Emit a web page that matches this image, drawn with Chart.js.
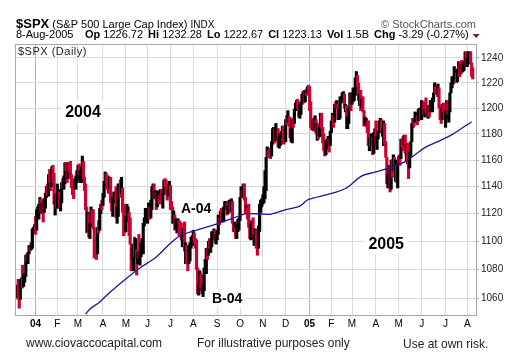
<!DOCTYPE html>
<html lang="en">
<head>
  <meta charset="UTF-8">
  <title>$SPX Daily</title>
  <script src="https://cdn.jsdelivr.net/npm/chart.js"></script>
  <style>
    body { margin: 0; background: #fff; }
    canvas { display: block; }
  </style>
</head>
<body>
  <canvas id="spxChart" width="520" height="360"></canvas>

  <script>
    // daily bars, 8-Dec-2003 .. 8-Aug-2005 (one row per month)
    const closes = [
      1069,1060,1059,1071,1074,1068,1075,1076,1089,1088,1092,1096,1094,1095,1109,1110,1112,
      1108,1122,1124,1126,1132,1122,1127,1121,1131,1132,1140,1139,1148,1144,1142,1155,1144,1128,1134,1131,
      1135,1136,1127,1129,1143,1140,1146,1158,1152,1146,1157,1152,1147,1144,1141,1139,1144,1145,1145,
      1156,1149,1151,1155,1157,1147,1141,1124,1107,1121,1104,1111,1124,1122,1110,1095,1094,1091,1109,1108,1122,1127,1126,
      1132,1142,1151,1148,1141,1139,1145,1129,1128,1129,1135,1136,1118,1124,1140,1141,1136,1138,1122,1114,1107,
      1117,1120,1122,1114,1099,1087,1095,1097,1096,1096,1084,1091,1089,1089,1094,1095,1113,1115,1121,1121,
      1121,1125,1117,1123,1140,1142,1131,1136,1125,1132,1134,1132,1135,1130,1134,1144,1141,1134,1133,1136,1141,
      1129,1125,1116,1118,1109,1113,1114,1115,1111,1107,1101,1101,1109,1094,1097,1086,1084,1095,1095,1100,1102,
      1107,1100,1099,1081,1064,1065,1079,1076,1063,1065,1079,1082,1095,1091,1098,1096,1096,1105,1105,1108,1099,1104,
      1106,1118,1114,1121,1116,1118,1124,1126,1128,1120,1124,1129,1122,1129,1114,1108,1110,1104,1110,1115,1115,
      1132,1135,1134,1142,1131,1122,1124,1122,1114,1103,1108,1114,1103,1104,1106,1096,1095,1111,1125,1127,1130,
      1131,1131,1143,1162,1166,1165,1164,1163,1173,1184,1184,1175,1182,1184,1170,1177,1177,1182,1183,1179,1174,
      1191,1190,1191,1190,1177,1183,1189,1188,1199,1203,1206,1203,1194,1195,1205,1210,1210,1205,1214,1213,1214,1212,
      1202,1188,1184,1188,1186,1190,1183,1188,1177,1185,1196,1185,1175,1168,1164,1168,1174,1175,1171,1181,
      1189,1193,1190,1203,1202,1202,1192,1197,1205,1206,1210,1210,1201,1202,1184,1191,1200,1211,1204,
      1210,1210,1210,1222,1225,1219,1207,1209,1200,1207,1198,1188,1190,1190,1184,1172,1173,1171,1174,1165,1181,1181,
      1173,1176,1181,1184,1191,1181,1181,1188,1174,1162,1143,1146,1153,1138,1160,1152,1162,1152,1156,1143,1157,
      1162,1161,1176,1173,1171,1179,1166,1171,1159,1154,1166,1174,1186,1191,1189,1194,1194,1190,1198,1199,1192,
      1202,1204,1196,1198,1197,1195,1201,1198,1201,1204,1207,1211,1217,1216,1214,1214,1201,1192,1191,1202,1200,1191,
      1194,1205,1195,1198,1212,1219,1222,1223,1227,1228,1221,1229,1235,1227,1234,1229,1231,1237,1244,1234,
      1235,1244,1245,1236,1226,1223
    ];
    const lows = [
      1060,1059,1053,1059,1067,1067,1068,1071,1075,1086,1084,1091,1093,1094,1095,1107,1106,
      1105,1108,1118,1116,1124,1121,1120,1114,1121,1124,1132,1133,1133,1143,1137,1140,1143,1127,1119,1124,
      1124,1131,1124,1122,1128,1139,1138,1142,1152,1143,1146,1151,1146,1139,1134,1131,1139,1138,1143,
      1145,1149,1143,1148,1143,1146,1137,1123,1106,1107,1103,1102,1111,1113,1109,1088,1091,1087,1091,1106,1108,1120,1123,
      1126,1132,1141,1142,1138,1135,1139,1128,1122,1118,1128,1129,1117,1113,1118,1135,1132,1135,1121,1104,1106,
      1107,1114,1117,1104,1098,1079,1087,1079,1089,1088,1076,1084,1088,1083,1089,1092,1091,1111,1115,1118,
      1113,1120,1116,1117,1123,1136,1131,1131,1123,1125,1129,1127,1130,1129,1124,1134,1140,1134,1130,1133,1135,
      1123,1123,1113,1113,1108,1109,1106,1110,1104,1106,1101,1096,1100,1093,1084,1084,1079,1084,1086,1095,1097,
      1097,1099,1095,1080,1063,1062,1065,1067,1063,1061,1065,1079,1077,1087,1090,1095,1092,1096,1101,1104,1099,1098,
      1101,1105,1112,1114,1115,1114,1114,1123,1123,1119,1120,1122,1121,1122,1113,1107,1107,1102,1102,1107,1108,
      1115,1132,1132,1132,1130,1120,1122,1116,1110,1102,1101,1102,1103,1097,1101,1095,1090,1095,1107,1121,1125,
      1127,1128,1131,1137,1162,1162,1162,1161,1163,1172,1179,1173,1175,1179,1170,1169,1171,1177,1181,1172,1173,
      1174,1187,1189,1186,1177,1174,1173,1185,1188,1198,1200,1200,1193,1192,1195,1203,1208,1204,1205,1210,1212,1211,
      1198,1185,1183,1183,1182,1183,1180,1175,1176,1178,1178,1184,1173,1167,1163,1164,1168,1170,1166,1171,
      1181,1189,1185,1189,1200,1200,1191,1191,1192,1204,1206,1205,1200,1197,1184,1184,1188,1200,1198,
      1203,1205,1206,1210,1220,1217,1206,1202,1198,1200,1197,1186,1188,1186,1181,1171,1167,1171,1171,1164,1165,1179,
      1171,1168,1176,1181,1182,1181,1178,1171,1172,1162,1142,1139,1146,1136,1138,1147,1152,1151,1144,1143,1139,
      1157,1156,1161,1170,1167,1171,1165,1159,1157,1146,1154,1163,1174,1185,1186,1189,1191,1187,1190,1196,1191,
      1191,1199,1195,1193,1197,1194,1192,1193,1197,1200,1197,1205,1211,1211,1212,1209,1200,1191,1188,1191,1197,1191,
      1185,1192,1195,1189,1197,1212,1216,1219,1223,1224,1220,1221,1225,1225,1227,1228,1229,1230,1237,1233,
      1233,1235,1240,1236,1225,1223
    ];
    const highs = [
      1069,1073,1063,1073,1074,1083,1076,1077,1090,1091,1092,1097,1096,1099,1109,1110,1112,
      1118,1123,1125,1127,1132,1131,1128,1130,1131,1135,1140,1142,1149,1153,1151,1155,1156,1150,1134,1135,
      1142,1138,1136,1132,1143,1146,1148,1158,1158,1156,1158,1158,1159,1149,1146,1144,1145,1148,1152,
      1156,1157,1152,1155,1163,1159,1147,1142,1125,1121,1120,1113,1125,1123,1123,1110,1102,1098,1110,1115,1124,1127,1130,
      1135,1144,1151,1150,1148,1148,1147,1147,1131,1132,1136,1136,1140,1125,1142,1142,1145,1147,1139,1127,1119,
      1118,1127,1125,1121,1117,1098,1095,1098,1103,1102,1094,1092,1105,1093,1099,1102,1113,1117,1124,1122,
      1123,1128,1125,1130,1140,1142,1142,1137,1136,1137,1135,1134,1138,1138,1135,1145,1146,1145,1142,1138,1144,
      1141,1129,1125,1122,1119,1116,1115,1117,1115,1114,1113,1106,1109,1114,1099,1097,1090,1097,1099,1103,1104,
      1108,1106,1102,1101,1081,1069,1079,1077,1076,1069,1081,1087,1095,1095,1100,1102,1101,1107,1106,1109,1108,1105,
      1108,1119,1117,1122,1124,1120,1125,1129,1129,1128,1126,1130,1129,1131,1129,1114,1114,1110,1112,1116,1117,
      1132,1140,1137,1142,1142,1132,1126,1124,1127,1114,1112,1115,1117,1105,1109,1108,1097,1111,1127,1130,1131,
      1134,1140,1152,1162,1170,1167,1168,1169,1174,1184,1185,1184,1188,1184,1184,1178,1180,1182,1186,1186,1180,
      1191,1194,1198,1193,1193,1184,1191,1192,1199,1204,1206,1207,1203,1203,1205,1211,1213,1214,1214,1215,1217,1218,
      1217,1205,1192,1191,1192,1194,1191,1188,1188,1185,1196,1196,1185,1180,1172,1175,1176,1178,1176,1182,
      1190,1196,1194,1203,1205,1206,1203,1199,1209,1207,1212,1213,1211,1203,1202,1193,1200,1212,1211,
      1212,1216,1215,1224,1229,1226,1220,1211,1214,1207,1209,1198,1193,1192,1190,1190,1177,1180,1180,1177,1181,1184,
      1190,1178,1182,1190,1192,1191,1184,1190,1188,1174,1162,1149,1156,1156,1160,1160,1164,1162,1160,1156,1157,
      1163,1164,1176,1176,1178,1179,1179,1172,1173,1164,1166,1174,1188,1192,1192,1197,1196,1194,1199,1200,1199,
      1206,1205,1205,1199,1208,1201,1202,1202,1206,1206,1208,1212,1220,1217,1217,1219,1216,1201,1195,1203,1204,1203,
      1198,1206,1206,1198,1212,1220,1225,1224,1233,1230,1228,1231,1237,1237,1235,1238,1235,1237,1245,1245,
      1240,1245,1245,1245,1236,1232
    ];

    // 200-day moving average, read at a few bar positions
    const maDays = [63, 67, 76, 86, 101, 113, 128, 141, 151, 168, 184, 199, 211, 224, 233, 245, 260, 268, 286, 302, 317, 329, 343, 357, 375, 387, 400, 418];
    const maValues = [1049, 1052.4, 1057.3, 1064.4, 1074, 1081, 1088.8, 1098.6, 1104.4, 1108.7, 1112.6, 1117, 1120, 1119.8, 1119.6, 1122.5, 1125.6, 1130.5, 1134.2, 1138.6, 1148, 1150.8, 1154.3, 1158.8, 1169.4, 1174, 1179.4, 1189.4];

    // first trading day of each month (bar index) and its label
    const monthStarts = [17, 37, 56, 79, 100, 120, 141, 162, 184, 205, 226, 247, 269, 289, 308, 330, 351, 372, 394, 414];
    const monthLabels = ['04', 'F', 'M', 'A', 'M', 'J', 'J', 'A', 'S', 'O', 'N', 'D', '05', 'F', 'M', 'A', 'M', 'J', 'J', 'A'];
    const priceTicks = [1060, 1080, 1100, 1120, 1140, 1160, 1180, 1200, 1220, 1240];

    const FONT = 'Arial, "Liberation Sans", sans-serif';
    const UP = '#000000';
    const DOWN = '#cc0033';

    if (lows.length !== closes.length || highs.length !== closes.length) {
      throw new Error('length mismatch ' + closes.length + ' ' + lows.length + ' ' + highs.length);
    }

    const barData = closes.map((c, i) => ({ x: i, y: [lows[i], highs[i]] }));
    const barColors = closes.map((c, i) => (i > 0 && c < closes[i - 1]) ? DOWN : UP);
    const maData = maDays.map((d, i) => ({ x: d, y: maValues[i] }));

    // text labels on the plot, placed in data units
    const notes = [
      { text: '2004', x: 60.6, y: 1197, size: 16 },
      { text: 'A-04', x: 164.6, y: 1124, size: 14 },
      { text: 'B-04', x: 193.1, y: 1060, size: 14 },
      { text: '2005', x: 339.4, y: 1098.6, size: 16 }
    ];

    function drawPieces(ctx, x, y, pieces) {
      pieces.forEach(p => {
        ctx.font = p.font;
        ctx.fillStyle = p.color || '#000';
        ctx.fillText(p.text, x, y);
        x += ctx.measureText(p.text).width;
      });
      return x;
    }

    const decor = {
      id: 'decor',
      beforeDraw(chart) {
        const ctx = chart.ctx;
        ctx.save();
        ctx.fillStyle = '#fff';
        ctx.fillRect(0, 0, chart.width, chart.height);
        ctx.restore();
      },
      afterDatasetsDraw(chart) {
        const ctx = chart.ctx;
        const a = chart.chartArea;
        const xs = chart.scales.x, ys = chart.scales.y;
        ctx.save();
        ctx.textBaseline = 'middle';
        ctx.textAlign = 'center';
        notes.forEach(n => {
          const px = xs.getPixelForValue(n.x);
          const py = ys.getPixelForValue(n.y);
          ctx.font = 'bold ' + n.size + 'px ' + FONT;
          const w = ctx.measureText(n.text).width;
          ctx.fillStyle = '#fff';
          ctx.fillRect(px - w / 2 - 4, py - n.size / 2 - 3, w + 8, n.size + 6);
          ctx.fillStyle = '#000';
          ctx.fillText(n.text, px, py + 1);
        });

        // frame
        ctx.strokeStyle = '#a8a8a8';
        ctx.lineWidth = 1;
        ctx.strokeRect(a.left - 0.5, a.top - 0.5, a.right - a.left + 1, a.bottom - a.top + 1);

        // chart name inside the plot
        ctx.textAlign = 'left';
        ctx.textBaseline = 'alphabetic';
        ctx.font = '11px ' + FONT;
        ctx.letterSpacing = '0.5px';
        ctx.fillStyle = '#222';
        ctx.fillText('$SPX (Daily)', a.left + 2, a.top + 10);
        ctx.letterSpacing = '0px';

        // header
        drawPieces(ctx, 16, 28, [
          { text: '$SPX', font: 'bold 13px ' + FONT },
          { text: ' (S&P 500 Large Cap Index) ', font: '11px ' + FONT },
          { text: 'INDX', font: '10px ' + FONT }
        ]);
        ctx.textAlign = 'right';
        ctx.font = '11px ' + FONT;
        ctx.fillStyle = '#555';
        ctx.fillText('\u00A9 StockCharts.com', 476, 28);
        ctx.textAlign = 'left';

        drawPieces(ctx, 16, 38, [{ text: '8-Aug-2005', font: '11px ' + FONT }]);
        const quote = [
          ['Op', ' 1226.72'], ['Hi', ' 1232.28'], ['Lo', ' 1222.67'],
          ['Cl', ' 1223.13'], ['Vol', ' 1.5B'], ['Chg', ' -3.29 (-0.27%)']
        ];
        let qx = 85;
        quote.forEach(g => {
          qx = drawPieces(ctx, qx, 38, [
            { text: g[0], font: 'bold 11px ' + FONT },
            { text: g[1], font: '11px ' + FONT }
          ]) + 5;
        });
        ctx.fillStyle = '#8b0a2a';
        ctx.beginPath();
        ctx.moveTo(qx - 1, 34);
        ctx.lineTo(qx + 6, 34);
        ctx.lineTo(qx + 2.5, 38);
        ctx.closePath();
        ctx.fill();

        // footer
        ctx.font = '12px ' + FONT;
        ctx.fillStyle = '#222';
        ctx.fillText('www.ciovaccocapital.com', 26, 347);
        ctx.fillText('For illustrative purposes only', 197, 347);
        ctx.fillText('Use at own risk.', 403, 348);
        ctx.restore();
      }
    };

    const spxChart = new Chart(document.getElementById('spxChart'), {
      type: 'bar',
      data: {
        datasets: [
          {
            type: 'line',
            label: 'MA(200)',
            data: maData,
            borderColor: '#1a1a9a',
            borderWidth: 1.3,
            pointRadius: 0,
            tension: 0.3,
            order: 0
          },
          {
            label: '$SPX',
            data: barData,
            backgroundColor: barColors,
            borderWidth: 0,
            barThickness: 2.5,
            grouped: false,
            order: 1
          }
        ]
      },
      options: {
        responsive: false,
        animation: false,
        layout: { padding: { left: 16, top: 45, right: 0, bottom: 0 } },
        plugins: {
          legend: { display: false },
          tooltip: { enabled: false }
        },
        scales: {
          x: {
            type: 'linear',
            min: -1,
            max: 422,
            offset: false,
            afterBuildTicks: s => { s.ticks = monthStarts.map(v => ({ value: v })); },
            afterFit: s => { s.height = 45; },
            grid: {
              offset: false,
              drawTicks: false,
              color: c => (c.tick && (c.tick.value === 17 || c.tick.value === 269)) ? '#b4b4b4' : '#dadada'
            },
            border: { display: false },
            ticks: {
              autoSkip: false,
              maxRotation: 0,
              padding: 3,
              color: '#000',
              font: c => ({
                family: FONT,
                size: 10,
                weight: (c.tick && (c.tick.value === 17 || c.tick.value === 269)) ? 'bold' : 'normal'
              }),
              callback: v => monthLabels[monthStarts.indexOf(v)]
            }
          },
          y: {
            type: 'logarithmic',
            position: 'right',
            min: 1048.3,
            max: 1250.5,
            afterBuildTicks: s => { s.ticks = priceTicks.map(v => ({ value: v })); },
            afterFit: s => { s.width = 44; },
            grid: { color: '#dadada', tickLength: 3, tickColor: '#b0b0b0' },
            border: { display: false },
            ticks: {
              padding: 2,
              color: '#222',
              font: { family: FONT, size: 10 },
              callback: v => String(v)
            }
          }
        }
      },
      plugins: [decor]
    });
  </script>
</body>
</html>
